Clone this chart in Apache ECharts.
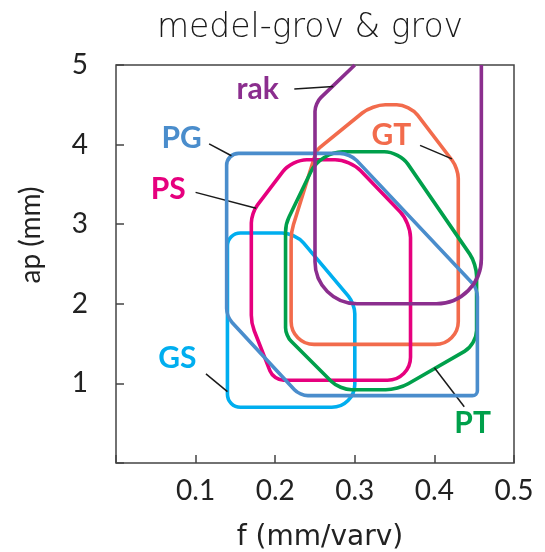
<!DOCTYPE html>
<html>
<head>
<meta charset="utf-8">
<script src="https://cdn.jsdelivr.net/npm/echarts@6/dist/echarts.min.js"></script>
<style>
html,body{margin:0;padding:0;background:#fff;}
#chart{width:545px;height:552px;}
</style>
</head>
<body>
<div id="chart"></div>
<script>
// ---- data (f in mm/varv, ap in mm) ----
var titleText = 'medel-grov & grov';
var xName = 'f (mm/varv)';
var yName = 'ap (mm)';
var xTicks = [0, 0.1, 0.2, 0.3, 0.4, 0.5];
var yTicks = [0, 1, 2, 3, 4, 5];
var shapeNames = ['GS', 'GT', 'PS', 'PT', 'PG', 'rak'];
var GS  = [[0.140,2.89],[0.225,2.89],[0.300,2.00],[0.300,0.70],[0.140,0.70]];
var GT  = [[0.322,4.50],[0.252,3.93],[0.220,2.90],[0.220,1.49],[0.430,1.49],[0.430,3.70],[0.369,4.50]];
var PS  = [[0.221,3.81],[0.170,3.14],[0.170,1.755],[0.198,1.04],[0.370,1.04],[0.370,3.02],[0.294,3.81]];
var PT  = [[0.257,3.91],[0.213,3.00],[0.213,1.60],[0.281,0.92],[0.354,0.92],[0.453,1.49],[0.453,2.50],[0.356,3.91]];
var PG  = [[0.139,3.89],[0.294,3.89],[0.454,2.19],[0.454,0.846],[0.231,0.846],[0.139,1.84]];
var rak = [[0.300,5.00],[0.250,4.52],[0.250,2.00],[0.459,2.00],[0.459,5.00]];
// label anchors and leader lines (data units)
var labelAt = {
  GS: [0.077,1.315], GT: [0.346,4.12], PS: [0.0657,3.44],
  PT: [0.448,0.50], PG: [0.0825,4.08], rak: [0.178,4.69]
};
var leaderFrom = {
  GS: [0.113,1.12], GT: [0.382,3.99], PS: [0.100,3.40],
  PT: [0.4375,0.707], PG: [0.117,4.01], rak: [0.224,4.70]
};
var leaderTo = {
  GS: [0.140,0.896], GT: [0.422,3.82], PS: [0.176,3.20],
  PT: [0.400,1.197], PG: [0.145,3.86], rak: [0.273,4.73]
};
var shapeData = {GS: GS, GT: GT, PS: PS, PT: PT, PG: PG, rak: rak};

// ---- styles ----
var colors = {GS:'#00aeef', GT:'#f26b4c', PS:'#e6007e', PT:'#00a04b', PG:'#4a8dcc', rak:'#8b2e8e'};
var radii = {
  GS: [13,13,10,23,13],
  GT: [13,4,8,23,23,10,13],
  PS: [15,10,8,10,23,15,15],
  PT: [22,8,8,12,12,14,12,15],
  PG: [12,10,8,5,8,8],
  rak: [0,8,42,45,0]
};
var closedShape = {GS:true, GT:true, PS:true, PT:true, PG:true, rak:false};
var FONT = 'Lato';
var WIDE = 'DejaVu Sans';

function roundedPath(pts, rs, closed) {
  var n = pts.length, K = 0.552;
  function sub(a,b){return [a[0]-b[0],a[1]-b[1]];}
  function len(v){return Math.sqrt(v[0]*v[0]+v[1]*v[1]);}
  function cornerPts(i) {
    var v = pts[i];
    var prev = pts[(i-1+n)%n], next = pts[(i+1)%n];
    var a = sub(prev,v), b = sub(next,v);
    var la = len(a), lb = len(b);
    var r = Math.min(rs[i] || 0, la/2, lb/2);
    var pin = [v[0]+a[0]/la*r, v[1]+a[1]/la*r];
    var pout = [v[0]+b[0]/lb*r, v[1]+b[1]/lb*r];
    var c1 = [pin[0]+(v[0]-pin[0])*K, pin[1]+(v[1]-pin[1])*K];
    var c2 = [pout[0]+(v[0]-pout[0])*K, pout[1]+(v[1]-pout[1])*K];
    return {pin:pin,pout:pout,c1:c1,c2:c2};
  }
  function f(p){return p[0].toFixed(2)+' '+p[1].toFixed(2);}
  var d = '';
  if (closed) {
    var c0 = cornerPts(0);
    d = 'M' + f(c0.pout);
    for (var i = 1; i < n; i++) {
      var c = cornerPts(i);
      d += ' L' + f(c.pin) + ' C' + f(c.c1) + ' ' + f(c.c2) + ' ' + f(c.pout);
    }
    d += ' L' + f(c0.pin) + ' C' + f(c0.c1) + ' ' + f(c0.c2) + ' ' + f(c0.pout) + ' Z';
  } else {
    d = 'M' + f(pts[0]);
    for (var j = 1; j < n-1; j++) {
      var cc = cornerPts(j);
      d += ' L' + f(cc.pin) + ' C' + f(cc.c1) + ' ' + f(cc.c2) + ' ' + f(cc.pout);
    }
    d += ' L' + f(pts[n-1]);
  }
  return d;
}

function makeSeries(name) {
  return {
    name: name,
    type: 'custom',
    coordinateSystem: 'cartesian2d',
    data: shapeData[name],
    encode: {x: 0, y: 1},
    silent: true,
    renderItem: function (params, api) {
      if (params.dataIndex !== 0) return null;
      var pts = shapeData[name].map(function (p) { return api.coord(p); });
      var la = api.coord(labelAt[name]);
      var lf = api.coord(leaderFrom[name]);
      var lt = api.coord(leaderTo[name]);
      return {
        type: 'group',
        children: [
          {type:'path', shape:{pathData: roundedPath(pts, radii[name], closedShape[name])},
           style:{fill:'none', stroke: colors[name], lineWidth: 3.6, lineJoin:'round'}},
          {type:'line', shape:{x1: lf[0], y1: lf[1], x2: lt[0], y2: lt[1]},
           style:{stroke:'#1a1a1a', lineWidth:1.5}},
          {type:'text', style:{text: name, x: la[0], y: la[1], fill: colors[name],
            fontFamily: FONT, fontWeight: 'bold', fontSize: 30, align:'center', verticalAlign:'middle'}}
        ]
      };
    }
  };
}

var chart = echarts.init(document.getElementById('chart'), null, {renderer:'canvas'});
chart.setOption({
  animation: false,
  backgroundColor: '#ffffff',
  grid: {left:116, right:31, top:65, bottom:89, show:true, borderColor:'#444', borderWidth:1.5, backgroundColor:'transparent'},
  xAxis: {
    type:'value', min: xTicks[0], max: xTicks[xTicks.length-1], interval: 0.1,
    axisLine:{show:false}, splitLine:{show:false},
    axisTick:{show:true, inside:true, length:8, lineStyle:{color:'#444', width:1.5}},
    axisLabel:{margin:14, fontFamily:FONT, fontSize:28, color:'#222',
      formatter:function(v){return v===0?'':v.toFixed(1);}}
  },
  yAxis: {
    type:'value', min: yTicks[0], max: yTicks[yTicks.length-1], interval: 1,
    axisLine:{show:false}, splitLine:{show:false},
    axisTick:{show:true, inside:true, length:8, lineStyle:{color:'#444', width:1.5}},
    axisLabel:{margin:28, fontFamily:FONT, fontSize:28, color:'#222',
      formatter:function(v){return v===0?'':String(v);}}
  },
  graphic: [
    {type:'text', x:310, y:28, style:{text:titleText, fontFamily:WIDE, fontWeight:300, fontSize:33, fill:'#1a1a1a', align:'center', verticalAlign:'middle'}},
    {type:'text', x:320, y:538, style:{text:xName, fontFamily:WIDE, fontSize:28, fill:'#222', align:'center', verticalAlign:'middle'}},
    {type:'text', x:31, y:235, rotation: Math.PI/2, style:{text:yName, fontFamily:FONT, fontSize:28, fill:'#222', align:'center', verticalAlign:'middle'}}
  ],
  series: shapeNames.map(makeSeries)
});
</script>
</body>
</html>
